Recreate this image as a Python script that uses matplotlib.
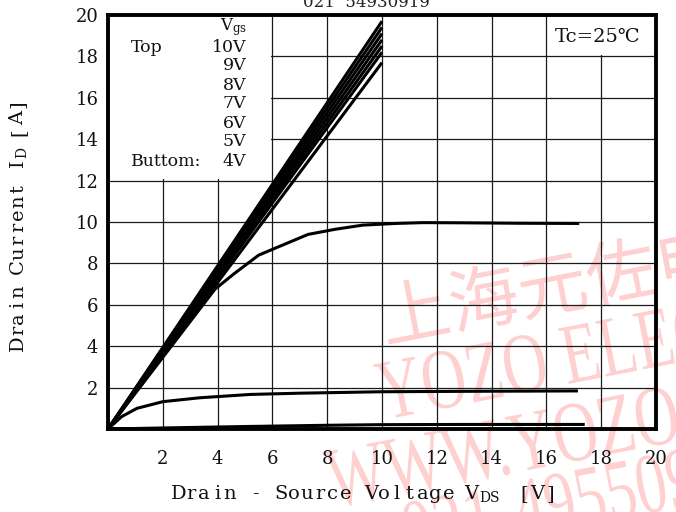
import matplotlib
matplotlib.use("Agg")
import matplotlib.pyplot as plt
from matplotlib.textpath import TextPath
from matplotlib.patches import PathPatch, Rectangle
from matplotlib.font_manager import FontProperties
from matplotlib.transforms import Affine2D, IdentityTransform

# ---- data -------------------------------------------------------------
# linear-region lines (ohmic region), all end at VDS = 10 V
lin_vds_end = 10.0
lin_id_end = [19.7, 19.4, 19.1, 18.8, 18.5, 18.2, 17.7]

# saturating curves
sat10_vds = [0, 3.9, 4.6, 5.5, 6.4, 7.3, 8.3, 9.3, 10.5, 11.5, 13.0, 15.0, 17.2]
sat10_id = [0, 6.75, 7.5, 8.4, 8.9, 9.4, 9.65, 9.85, 9.93, 9.97, 9.96, 9.94, 9.93]

sat2_vds = [0, 0.5, 1.06, 2.0, 3.36, 5.2, 7.0, 10.0, 13.0, 17.15]
sat2_id = [0, 0.6, 1.0, 1.32, 1.51, 1.67, 1.73, 1.8, 1.82, 1.84]

low_vds = [0, 2.0, 5.0, 8.0, 10.0, 13.0, 17.4]
low_id = [0, 0.05, 0.12, 0.18, 0.21, 0.22, 0.22]

x_ticks = [2, 4, 6, 8, 10, 12, 14, 16, 18, 20]
y_ticks = [2, 4, 6, 8, 10, 12, 14, 16, 18, 20]

vgs_labels = ["10V", "9V", "8V", "7V", "6V", "5V", "4V"]

# ---- figure -----------------------------------------------------------
W, H = 676, 512
plt.rcParams["font.family"] = ["DejaVu Serif", "DejaVu Sans"]
plt.rcParams["mathtext.fontset"] = "dejavuserif"

fig = plt.figure(figsize=(W / 100, H / 100), dpi=100)
fig.patch.set_facecolor("white")
ax = fig.add_axes([108 / W, 1 - 429 / H, 548 / W, 414 / H])
ax.set_facecolor("none")

ax.set_xlim(0, 20)
ax.set_ylim(0, 20)
ax.set_xticks(x_ticks)
ax.set_yticks(y_ticks)
ax.set_xticklabels([str(v) for v in x_ticks])
ax.set_yticklabels([str(v) for v in y_ticks])
ax.tick_params(length=0, labelsize=13, colors="#111")
ax.tick_params(axis="x", pad=15)
ax.tick_params(axis="y", pad=7)
ax.set_axisbelow(True)
ax.grid(True, color="#1a1a1a", lw=0.9)
for s in ax.spines.values():
    s.set_linewidth(2.8)
    s.set_color("black")
    s.set_zorder(5)

# blank areas behind the in-plot annotations
ax.add_patch(Rectangle((0, 12.06), 5.95, 7.94, fc="white", ec="none", zorder=1))
ax.add_patch(Rectangle((16.05, 18.06), 3.95, 1.94, fc="white", ec="none", zorder=1))

lw = 2.2
for idv in lin_id_end:
    ax.plot([0, lin_vds_end], [0, idv], color="black", lw=lw, zorder=3,
            solid_capstyle="butt")
ax.plot(sat10_vds, sat10_id, color="black", lw=lw, zorder=3, solid_capstyle="butt")
ax.plot(sat2_vds, sat2_id, color="black", lw=lw, zorder=3, solid_capstyle="butt")
ax.plot(low_vds, low_id, color="black", lw=lw, zorder=3, solid_capstyle="butt")


def px(x, y):
    """pixel (from top-left) -> figure fraction"""
    return x / W, 1 - y / H


def mono(text, x0, y, pitch, size, rotation=0, color="#111"):
    """place characters on a fixed pitch, starting at x0 (or y0 when vertical)"""
    for i, ch in enumerate(text):
        if ch == " ":
            continue
        if rotation == 90:
            fx, fy = px(y, x0 - (i + 0.5) * pitch)
        else:
            fx, fy = px(x0 + (i + 0.5) * pitch, y)
        fig.text(fx, fy, ch, ha="center", va="center", fontsize=size,
                 rotation=rotation, color=color)


# axis labels
mono("Drain - Source Voltage", 172, 494, 12.85, 14)
fig.text(*px(464, 494), "V", ha="left", va="center", fontsize=14, color="#111")
fig.text(*px(479, 498), "DS", ha="left", va="center", fontsize=10, color="#111")
mono("[V]", 517, 494, 13.5, 14)

mono("Drain Current I", 350, 18, 12.9, 14, rotation=90)
fig.text(*px(22, 152), "D", ha="center", va="center", fontsize=10, rotation=90,
         color="#111")
mono("[A]", 139, 18, 14, 14, rotation=90)

# gate-voltage key
fig.text(*px(220, 27), r"$\mathregular{V_{gs}}$", ha="left", va="center",
         fontsize=12, color="#111")
fig.text(*px(131, 47), "Top", ha="left", va="center", fontsize=12.5,
         color="#111")
for i, lab in enumerate(vgs_labels):
    fig.text(*px(246, 47 + i * 19.0), lab, ha="right", va="center",
             fontsize=12.5, color="#111")
fig.text(*px(131, 161), "Buttom:", ha="left", va="center", fontsize=12.5,
         color="#111")

fig.text(*px(598, 37), "Tc=25\u2103", ha="center", va="center", fontsize=14,
         color="#111")

fig.text(*px(366, 7), "021  54930919", ha="center", va="baseline", fontsize=12,
         color="#222")

# pink company stamp in the background
stamp_color = "#ffd0d0"


def stamp(text, x, y, em, sx, angle, family):
    tp = TextPath((0, 0), text, size=1, prop=FontProperties(family=family))
    tr = Affine2D().scale(em * sx, em).rotate_deg(angle).translate(x, H - y)
    patch = PathPatch(tr.transform_path(tp), transform=IdentityTransform(),
                      fc=stamp_color, ec="none", zorder=-5)
    fig.add_artist(patch)


ang = 11
stamp("上海元佐电子", 385, 343, 70, 1.0, ang, "Noto Sans CJK SC")
stamp("YOZO ELECTRONICS", 383, 420, 86, 0.72, ang, "Liberation Serif")
stamp("WWW.YOZO-IC.COM", 333, 508, 86, 0.72, ang, "Liberation Serif")
stamp("021-49550919", 408, 560, 86, 0.72, ang, "Liberation Serif")

fig.savefig("out.png", dpi=100)
